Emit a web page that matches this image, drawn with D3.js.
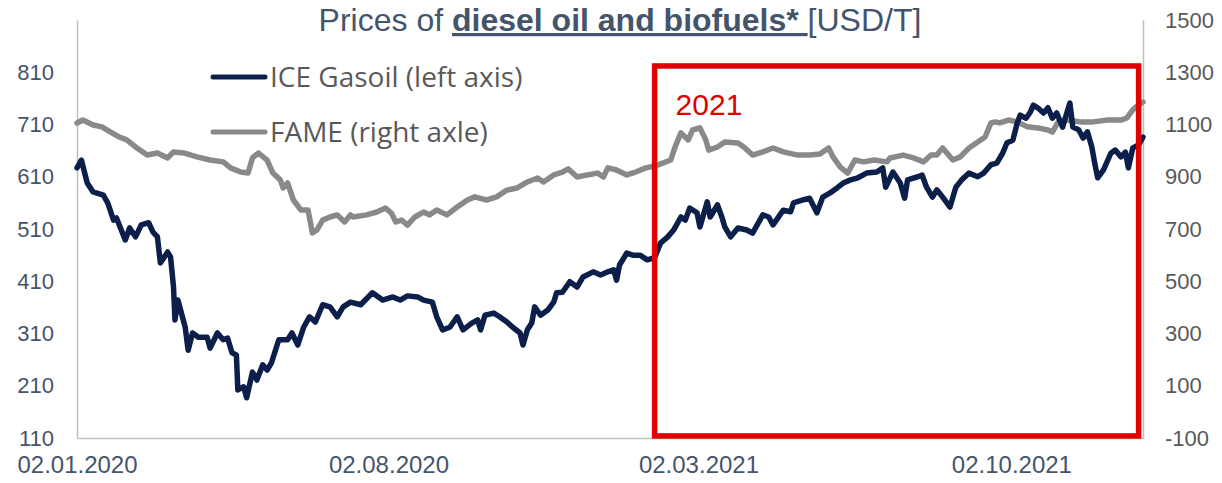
<!DOCTYPE html>
<html>
<head>
<meta charset="utf-8">
<script src="https://cdn.jsdelivr.net/npm/d3@7"></script>
<style>
  body { margin: 0; background: #fff; }
  svg { display: block; }
  .axis text { font-family: "Liberation Sans", Arial, sans-serif; }
</style>
</head>
<body>
<div class="chart-container"></div>
<script>
/* Data
   ========================================================================== */
var startDate = new Date(2020, 0, 2);

// ICE Gasoil, left axis (days since 02.01.2020)
var gasoilDays = [0,3,7,11,18,21,25,27,33,36,40,44,49,52,55,57,62,64,66,67,69,74,76,79,83,89,91,96,100,103,106,109,110,114,116,120,123,127,130,133,138,144,147,151,155,159,163,168,173,178,182,187,194,202,209,216,221,226,233,237,243,246,250,255,260,264,270,274,276,279,285,289,294,298,303,305,308,311,313,317,322,326,328,332,337,342,346,353,358,363,367,369,371,376,380,385,390,395,399,404,408,413,416,419,424,426,431,433,438,441,443,447,452,458,462,469,473,476,483,488,490,497,501,506,510,515,520,524,529,534,540,547,551,553,558,563,566,568,575,578,581,585,588,592,597,601,605,610,616,620,625,629,633,636,640,643,645,649,652,654,657,661,664,667,670,674,676,679,681,685,688,691,694,696,698,702,707,710,714,717,719,722,726,729];
var gasoilPrices = [627,642,598,581,575,560,527,531,489,512,495,518,522,504,495,445,466,456,399,336,374,322,278,311,303,303,282,311,298,301,273,269,202,208,187,236,221,250,240,254,298,298,311,288,322,342,332,365,361,342,361,370,365,388,374,380,374,382,380,374,370,342,317,322,342,317,330,336,317,345,349,342,332,322,311,288,317,330,361,345,355,370,388,389,409,399,418,428,422,428,432,412,441,464,460,460,451,455,483,495,508,533,527,550,541,514,562,533,556,533,514,495,512,508,502,537,533,518,546,543,560,566,569,541,571,579,589,598,604,608,617,619,627,590,619,598,569,604,610,613,590,571,585,571,552,590,604,617,610,617,633,636,655,675,680,713,728,722,734,747,742,732,742,722,732,705,724,751,705,700,684,696,667,636,608,623,655,661,648,657,627,665,671,686];

// FAME, right axis
var fameDays = [0,4,11,17,23,29,34,40,48,55,62,66,73,82,91,100,105,112,117,120,124,130,134,139,141,144,148,153,158,161,164,168,173,178,183,187,189,198,205,211,215,218,222,226,231,237,241,246,253,260,267,272,280,287,294,301,308,315,319,326,332,336,342,349,356,360,363,369,376,382,389,395,401,406,409,413,418,421,426,430,432,438,443,452,456,462,469,476,483,493,501,508,514,517,522,527,532,538,545,554,556,565,572,579,584,588,592,599,604,610,616,621,625,628,631,637,643,650,657,664,667,671,677,686,695,705,714,718,722,726,729];
var famePrices = [1106,1117,1098,1091,1071,1052,1041,1014,983,991,972,995,991,976,964,957,934,918,914,972,991,964,914,888,857,876,811,773,773,685,696,734,746,754,727,754,746,754,765,780,761,727,734,715,746,765,754,773,754,784,811,823,811,823,849,857,880,895,880,907,918,930,899,907,914,899,934,926,907,918,934,941,953,964,1014,1068,1041,1079,1087,1041,1002,1014,1033,1029,1014,983,995,1010,995,983,983,987,1010,976,937,914,964,957,964,957,972,983,972,957,983,983,1010,964,976,1010,1033,1052,1106,1110,1106,1117,1110,1091,1087,1079,1071,1110,1117,1110,1110,1117,1117,1125,1156,1175,1186];

var leftTicks = [110,210,310,410,510,610,710,810];
var rightTicks = [-100,100,300,500,700,900,1100,1300,1500];
var dateTicks = ["2020-01-02","2020-08-02","2021-03-02","2021-10-02"];
var seriesNames = ["ICE Gasoil (left axis)", "FAME (right axle)"];

// "2021" box: dates and left-axis values
var boxDates = ["2021-01-31", "2021-12-28"];
var boxValues = [114, 822];

/* Set up
   ========================================================================== */
var width = 1222, height = 483;
var margin = { top: 20, right: 79, bottom: 45, left: 77 };

var parseDate = d3.timeParse("%Y-%m-%d");
var fmt = d3.timeFormat("%d.%m.%Y");
// plain numbers: no thousands comma, ASCII minus
var plain = function(d) { return String(d); };

var x = d3.scaleTime()
    .domain([startDate, parseDate("2021-12-31")])
    .range([margin.left, width - margin.right]);
var yLeft = d3.scaleLinear()
    .domain([110, 910])
    .range([height - margin.bottom, margin.top]);
var yRight = d3.scaleLinear()
    .domain([-100, 1500])
    .range([height - margin.bottom, margin.top]);

var svg = d3.select(".chart-container").append("svg")
    .attr("width", width)
    .attr("height", height);

// Build the series
var gasoil = gasoilDays.map(function(d, i) {
    return { date: d3.timeDay.offset(startDate, d), value: gasoilPrices[i] };
});
var fame = fameDays.map(function(d, i) {
    return { date: d3.timeDay.offset(startDate, d), value: famePrices[i] };
});

/* Axes
   ========================================================================== */
var axisColor = "#bfbfbf";

var gLeft = svg.append("g")
    .attr("class", "axis")
    .attr("transform", "translate(" + margin.left + ",0)")
    .call(d3.axisLeft(yLeft).tickValues(leftTicks).tickFormat(plain).tickSize(0).tickPadding(23));
gLeft.selectAll("text").style("font-size", "22px").attr("fill", "#44546a");

var gRight = svg.append("g")
    .attr("class", "axis")
    .attr("transform", "translate(" + (width - margin.right) + ",0)")
    .call(d3.axisRight(yRight).tickValues(rightTicks).tickFormat(plain).tickSize(0).tickPadding(22));
gRight.selectAll("text").style("font-size", "22px").attr("fill", "#595959");

var gBottom = svg.append("g")
    .attr("class", "axis")
    .attr("transform", "translate(0," + (height - margin.bottom) + ")")
    .call(d3.axisBottom(x).tickValues(dateTicks.map(parseDate)).tickFormat(fmt).tickSize(0).tickPadding(18));
gBottom.selectAll("text").style("font-size", "24px").attr("fill", "#44546a");

svg.selectAll(".axis .domain")
    .attr("stroke", axisColor)
    .attr("stroke-width", 1.5);

/* Lines
   ========================================================================== */
var lineLeft = d3.line()
    .x(function(d) { return x(d.date); })
    .y(function(d) { return yLeft(d.value); });
var lineRight = d3.line()
    .x(function(d) { return x(d.date); })
    .y(function(d) { return yRight(d.value); });

svg.append("path")
    .datum(fame)
    .attr("fill", "none")
    .attr("stroke", "#898989")
    .attr("stroke-width", 5.5)
    .attr("stroke-linejoin", "round")
    .attr("stroke-linecap", "round")
    .attr("d", lineRight);

svg.append("path")
    .datum(gasoil)
    .attr("fill", "none")
    .attr("stroke", "#0b1f4a")
    .attr("stroke-width", 5.5)
    .attr("stroke-linejoin", "round")
    .attr("stroke-linecap", "round")
    .attr("d", lineLeft);

/* 2021 box
   ========================================================================== */
var bx0 = x(parseDate(boxDates[0])), bx1 = x(parseDate(boxDates[1]));
var by0 = yLeft(boxValues[1]), by1 = yLeft(boxValues[0]);
svg.append("rect")
    .attr("x", bx0)
    .attr("y", by0)
    .attr("width", bx1 - bx0)
    .attr("height", by1 - by0)
    .attr("fill", "none")
    .attr("stroke", "#e00000")
    .attr("stroke-width", 5.5);

svg.append("text")
    .attr("x", bx0 + 21)
    .attr("y", by0 + 49)
    .attr("fill", "#e00000")
    .style("font-family", "Liberation Sans, Arial, sans-serif")
    .style("font-size", "30px")
    .text("2021");

/* Title
   ========================================================================== */
var title = svg.append("text")
    .attr("x", 620)
    .attr("y", 31)
    .attr("text-anchor", "middle")
    .attr("fill", "#44546a")
    .style("font-family", "Liberation Sans, Arial, sans-serif")
    .style("font-size", "32px");
title.append("tspan").text("Prices of ");
title.append("tspan")
    .style("font-weight", "bold")
    .style("text-decoration", "underline")
    .text("diesel oil and biofuels* ");
title.append("tspan").text("[USD/T]");

/* Legend
   ========================================================================== */
var legendColors = ["#0b1f4a", "#898989"];
var legend = svg.selectAll(".legend")
    .data(seriesNames)
    .enter().append("g")
    .attr("class", "legend")
    .attr("transform", function(d, i) { return "translate(213," + (77 + i * 55) + ")"; });

legend.append("line")
    .attr("x1", 0).attr("x2", 52)
    .attr("stroke", function(d, i) { return legendColors[i]; })
    .attr("stroke-width", 5)
    .attr("stroke-linecap", "round");

legend.append("text")
    .attr("x", 57)
    .attr("dy", "0.35em")
    .attr("fill", "#595959")
    .style("font-family", "Open Sans, sans-serif")
    .style("font-size", "28px")
    .text(function(d) { return d; });
</script>
</body>
</html>
